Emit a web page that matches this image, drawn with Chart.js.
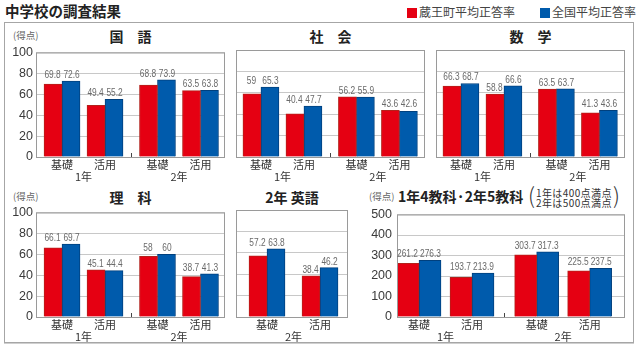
<!DOCTYPE html>
<html lang="ja">
<head>
<meta charset="utf-8">
<title>中学校の調査結果</title>
<script src="https://cdn.jsdelivr.net/npm/chart.js@4.4.1/dist/chart.umd.min.js"></script>
<style>
  body { margin: 0; background: #fff; font-family: "Noto Sans CJK JP", sans-serif; color: #222; }
  #wrap { position: relative; width: 640px; height: 346px; overflow: hidden; }
  #frame { position: absolute; left: 4px; top: 22px; width: 628px; height: 319px; border: 1px solid #a6a6a6; box-shadow: 0 1px 0 #cfcfcf; }
  .abs { position: absolute; white-space: nowrap; }
  .main-title { left: 5px; top: 2px; font-size: 14.5px; font-weight: 700; line-height: 18px; }
  .legend { top: 5px; font-size: 12px; line-height: 14px; color: #444; }
  .legend i { display: inline-block; width: 10px; height: 10px; margin-right: 2px; vertical-align: -1px; }
  .ptitle { font-size: 14px; font-weight: 700; line-height: 14px; text-align: center; }
  .unit { font-size: 9.5px; line-height: 10px; color: #666; }
  .note { font-size: 10px; line-height: 10px; color: #333; }
  canvas { position: absolute; }
</style>
</head>
<body>
<div id="wrap">
  <div id="frame"></div>
  <div class="abs main-title">中学校の調査結果</div>
</div>
<script>
// データ
const seriesNames = ['蔵王町平均正答率', '全国平均正答率'];
const subjects = ['国　語', '社　会', '数　学', '理　科', '2年 英語', '1年4教科·2年5教科'];
const categories = ['基礎', '活用', '基礎', '活用'];
const grades = ['1年', '2年'];
const englishCategories = ['基礎', '活用'];
const englishGrades = ['2年'];

const kokugoZao = [69.8, 49.4, 68.8, 63.5];
const kokugoZenkoku = [72.6, 55.2, 73.9, 63.8];
const shakaiZao = [59, 40.4, 56.2, 43.6];
const shakaiZenkoku = [65.3, 47.7, 55.9, 42.6];
const sugakuZao = [66.3, 58.8, 63.5, 41.3];
const sugakuZenkoku = [68.7, 66.6, 63.7, 43.6];
const rikaZao = [66.1, 45.1, 58, 38.7];
const rikaZenkoku = [69.7, 44.4, 60, 41.3];
const eigoZao = [57.2, 38.4];
const eigoZenkoku = [63.8, 46.2];
const goukeiZao = [261.2, 193.7, 303.7, 225.5];
const goukeiZenkoku = [276.3, 213.9, 317.3, 237.5];

const scoreMax = 100, scoreStep = 20;
const totalMax = 500, totalStep = 100;

// 見た目
const RED = '#e50012', RED_EDGE = '#b3211b';
const BLUE = '#005bac', BLUE_EDGE = '#00407e';
const CJK = '"Noto Sans CJK JP", sans-serif';
const NUM = '"Liberation Sans", Arial, sans-serif';
const ROW_TOP = [50, 210];
const PLOT_H = 105, PAD_T = 8, XH = 13;
const GROUP_GAP = 0.22;

const panels = [
  { title: subjects[0], zao: kokugoZao, zen: kokugoZenkoku, labels: categories, groups: grades, yMax: scoreMax, yStep: scoreStep },
  { title: subjects[1], zao: shakaiZao, zen: shakaiZenkoku, labels: categories, groups: grades, yMax: scoreMax, yStep: scoreStep },
  { title: subjects[2], zao: sugakuZao, zen: sugakuZenkoku, labels: categories, groups: grades, yMax: scoreMax, yStep: scoreStep },
  { title: subjects[3], zao: rikaZao, zen: rikaZenkoku, labels: categories, groups: grades, yMax: scoreMax, yStep: scoreStep },
  { title: subjects[4], zao: eigoZao, zen: eigoZenkoku, labels: englishCategories, groups: englishGrades, yMax: scoreMax, yStep: scoreStep },
  { title: subjects[5], zao: goukeiZao, zen: goukeiZenkoku, labels: categories, groups: grades, yMax: totalMax, yStep: totalStep }
];

// 配置 (グラフ領域の左端・幅、目盛り幅など)
const layout = [
  { row: 0, left: 36, width: 189, yw: 36, showY: true, pad: 3, min: -0.605, max: 3.79, bar: 18, vsize: 11 },
  { row: 0, left: 236, width: 189, yw: 1, showY: false, pad: 3, min: -0.58, max: 3.815, bar: 18, vsize: 11 },
  { row: 0, left: 436, width: 189, yw: 1, showY: false, pad: 3, min: -0.58, max: 3.815, bar: 18, vsize: 11 },
  { row: 1, left: 36, width: 189, yw: 36, showY: true, pad: 3, min: -0.605, max: 3.79, bar: 18, vsize: 11 },
  { row: 1, left: 236, width: 112, yw: 1, showY: false, pad: 3, min: -0.585, max: 1.528, bar: 18, vsize: 11 },
  { row: 1, left: 397, width: 228, yw: 32, showY: true, pad: 5, min: -0.415, max: 3.887, bar: 22, vsize: 11 }
];

const wrap = document.getElementById('wrap');

function addText(cls, html, style) {
  const d = document.createElement('div');
  d.className = 'abs ' + cls;
  d.innerHTML = html;
  Object.assign(d.style, style);
  wrap.appendChild(d);
  return d;
}

// 凡例
[[RED, 407], [BLUE, 540]].forEach(([c, x], i) => {
  addText('legend', `<i style="background:${c}"></i>${seriesNames[i]}`, { left: x + 'px' });
});

// 単位・タイトル
addText('unit', '(得点)', { left: '13px', top: '30px' });
addText('unit', '(得点)', { left: '13px', top: '191px' });
addText('unit', '(得点)', { left: '369px', top: '191px' });

panels.forEach((p, k) => {
  const g = layout[k];
  if (k === 5) return;
  addText('ptitle', p.title, {
    left: g.left + 'px', width: g.width + 'px', top: (g.row === 0 ? 29 : 190) + 'px'
  });
});
addText('ptitle', subjects[5], { left: '398px', top: '188px', fontSize: '14px', lineHeight: '16px' });
addText('note', '<span style="position:absolute;left:0;top:-5px;font-size:22px;line-height:22px;font-weight:300">(</span>' +
  '<div style="margin-left:8px;letter-spacing:0.4px">1年は400点満点<br>2年は500点満点</div>' +
  '<span style="position:absolute;right:-8px;top:-5px;font-size:22px;line-height:22px;font-weight:300">)</span>',
  { left: '528px', top: '188px' });

// 枠線と区切り
function framePlugin(pos) {
  return {
    id: 'frame',
    afterDatasetsDraw(chart) {
      const a = chart.chartArea, ctx = chart.ctx;
      ctx.save();
      ctx.strokeStyle = '#9a9a9a';
      ctx.lineWidth = 1;
      ctx.strokeRect(a.left + 0.5, a.top + 0.5, a.right - a.left - 1, a.bottom - a.top);
      if (pos.length === 4) {
        const x = Math.round(chart.scales.x.getPixelForValue((pos[1] + pos[2]) / 2)) + 0.5;
        ctx.strokeStyle = '#444';
        ctx.beginPath();
        ctx.moveTo(x, a.bottom - 4);
        ctx.lineTo(x, a.bottom);
        ctx.stroke();
      }
      ctx.restore();
    }
  };
}

// 数値ラベル (細めの字に見せるため横だけ縮める)
function valuePlugin(size) {
  return {
    id: 'values',
    afterDatasetsDraw(chart) {
      const ctx = chart.ctx;
      const m0 = chart.getDatasetMeta(0), m1 = chart.getDatasetMeta(1);
      const put = (txt, x, y) => {
        ctx.save();
        ctx.translate(x, y);
        ctx.scale(0.76, 1);
        ctx.fillText(txt, 0, 0);
        ctx.restore();
      };
      ctx.save();
      ctx.font = size + 'px ' + NUM;
      ctx.fillStyle = '#6a6a6a';
      ctx.textAlign = 'center';
      ctx.textBaseline = 'alphabetic';
      m0.data.forEach((b0, i) => {
        const b1 = m1.data[i];
        let y0 = b0.y - 3, y1 = b1.y - 3;
        if (Math.abs(b0.y - b1.y) < 8) y0 = y1 = Math.min(b0.y, b1.y) - 3;
        put(String(chart.data.datasets[0].data[i].y), b0.x - 0.5, y0);
        put(String(chart.data.datasets[1].data[i].y), b1.x + 0.5, y1);
      });
      ctx.restore();
    }
  };
}

panels.forEach((p, k) => {
  const g = layout[k];
  const pos = p.labels.map((_, i) => i + (i >= 2 ? GROUP_GAP : 0));
  const mids = p.groups.map((_, j) => (pos[2 * j] + pos[2 * j + 1]) / 2);

  const cv = document.createElement('canvas');
  cv.width = g.yw + g.width + 1;
  cv.height = PAD_T + PLOT_H + XH * 2 + 2;
  cv.style.left = (g.left - g.yw) + 'px';
  cv.style.top = (ROW_TOP[g.row] - PAD_T) + 'px';
  wrap.appendChild(cv);

  const tickFont = { family: CJK, size: 11 };
  new Chart(cv, {
    type: 'bar',
    data: {
      datasets: [
        { label: seriesNames[0], data: p.zao.map((v, i) => ({ x: pos[i], y: v })),
          backgroundColor: RED, borderColor: RED_EDGE, borderWidth: 1, barThickness: g.bar },
        { label: seriesNames[1], data: p.zen.map((v, i) => ({ x: pos[i], y: v })),
          backgroundColor: BLUE, borderColor: BLUE_EDGE, borderWidth: 1, barThickness: g.bar }
      ]
    },
    options: {
      responsive: false,
      animation: false,
      devicePixelRatio: 1,
      layout: { padding: { top: PAD_T, right: 1, left: 0, bottom: 0 } },
      plugins: { legend: { display: false }, tooltip: { enabled: false } },
      scales: {
        x: {
          type: 'linear', bounds: 'data', min: g.min, max: g.max, offset: false,
          grid: { display: false, drawTicks: false }, border: { display: false },
          afterBuildTicks: ax => { ax.ticks = pos.map(v => ({ value: v })); },
          afterFit: ax => { ax.height = XH; },
          ticks: { autoSkip: false, maxRotation: 0, padding: 1, color: '#333', font: tickFont,
                   callback: (v, i) => p.labels[i] }
        },
        x2: {
          type: 'linear', position: 'bottom', bounds: 'data', min: g.min, max: g.max, offset: false,
          grid: { display: false, drawTicks: false }, border: { display: false },
          afterBuildTicks: ax => { ax.ticks = mids.map(v => ({ value: v })); },
          afterFit: ax => { ax.height = XH; },
          ticks: { autoSkip: false, maxRotation: 0, padding: 0, color: '#333', font: tickFont,
                   callback: (v, i) => p.groups[i] }
        },
        y: {
          min: 0, max: p.yMax,
          ticks: { stepSize: p.yStep, display: g.showY, padding: g.pad, color: '#3a3a3a',
                   font: { family: NUM, size: 12.5 } },
          grid: { color: '#c8c8c8', drawTicks: false },
          border: { display: false },
          afterFit: ax => { ax.width = g.yw; }
        }
      }
    },
    plugins: [framePlugin(pos), valuePlugin(g.vsize)]
  });
});
</script>
</body>
</html>
